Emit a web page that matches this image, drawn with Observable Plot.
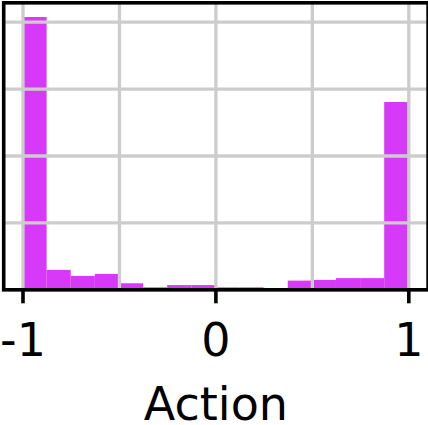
<!DOCTYPE html>
<html>
<head>
<meta charset="utf-8">
<script src="https://cdn.jsdelivr.net/npm/d3@7"></script>
<script src="https://cdn.jsdelivr.net/npm/@observablehq/plot@0.6"></script>
<style>
  html, body { margin: 0; padding: 0; background: #fff; }
</style>
</head>
<body>
<div id="chart"></div>
<script>
// Histogram bin edges (16 bins from -1 to 1)
const binEdges = [-1, -0.875, -0.75, -0.625, -0.5, -0.375, -0.25, -0.125, 0,
                  0.125, 0.25, 0.375, 0.5, 0.625, 0.75, 0.875, 1];
// Density per bin
const density = [4.07, 0.29, 0.20, 0.23, 0.09, 0.03, 0.063, 0.063,
                 0.03, 0.03, 0, 0.13, 0.14, 0.167, 0.167, 2.80];
const xTicks = [-1, 0, 1];
const xGrid = [-1, -0.5, 0, 0.5, 1];
const yGrid = [0, 1, 2, 3, 4];
const xLabel = "Action";

const bins = density.map((v, i) => ({x1: binEdges[i], x2: binEdges[i + 1], y: v}));

const chart = Plot.plot({
  width: 428,
  height: 425,
  marginLeft: 3.2,
  marginRight: 0.4,
  marginTop: 2.3,
  marginBottom: 135.7,
  style: {fontFamily: "'DejaVu Sans', sans-serif", background: "#fff", overflow: "visible"},
  x: {domain: [-1.1, 1.1]},
  y: {domain: [0, 4.29]},
  marks: [
    Plot.rectY(bins, {x1: "x1", x2: "x2", y: "y", fill: "#d63af8", inset: 0}),
    Plot.gridX(xGrid, {stroke: "#cccccc", strokeOpacity: 1, strokeWidth: 3.3}),
    Plot.gridY(yGrid, {stroke: "#cccccc", strokeOpacity: 1, strokeWidth: 3.3}),
    Plot.frame({stroke: "black", strokeWidth: 3.6}),
    Plot.axisX(xTicks, {
      tickSize: 14, tickPadding: 20, fontSize: 46, strokeWidth: 3.6,
      tickFormat: d => String(d), label: null, fill: "black", stroke: "black"
    }),
    Plot.axisY({ticks: [], label: null}),
    Plot.text([xLabel], {frameAnchor: "bottom", lineAnchor: "top", dy: 97.5, fontSize: 46, fill: "black", text: d => d})
  ]
});
document.getElementById("chart").appendChild(chart);
</script>
</body>
</html>
